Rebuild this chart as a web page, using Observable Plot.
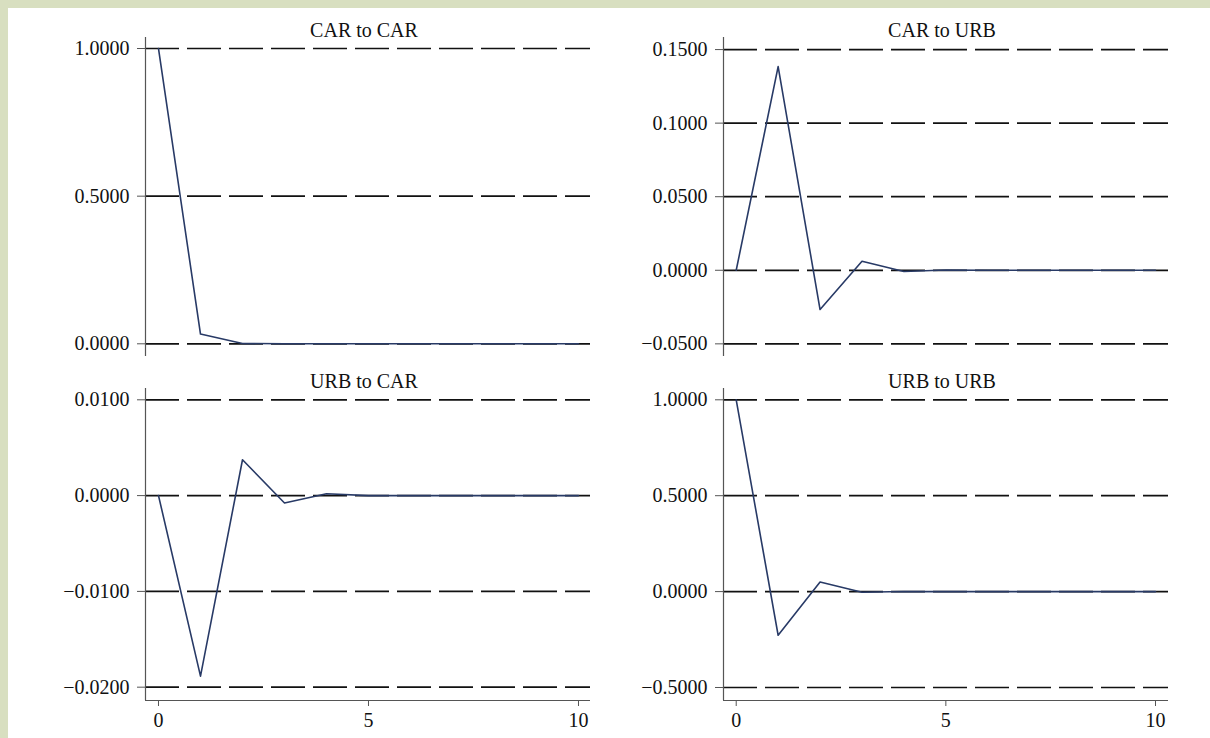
<!DOCTYPE html>
<html>
<head>
<meta charset="utf-8">
<script src="https://cdn.jsdelivr.net/npm/d3@7"></script>
<script src="https://cdn.jsdelivr.net/npm/@observablehq/plot@0.6"></script>
<style>
  html, body { margin: 0; padding: 0; background: #d8dfc0; }
  #page { position: relative; width: 1210px; height: 738px; overflow: hidden; }
  #sheet { position: absolute; left: 8px; top: 8px; right: 0; bottom: 0; background: #ffffff; }
  .panel { position: absolute; }
</style>
</head>
<body>
<div id="page"><div id="sheet"></div></div>
<script>
// ---- data ----
const periods = [0, 1, 2, 3, 4, 5, 6, 7, 8, 9, 10];
const carToCar = [1.0, 0.033, 0.001, 0.0002, 0, 0, 0, 0, 0, 0, 0];
const carToUrb = [0, 0.1384, -0.0267, 0.0061, -0.0008, 0.0002, 0, 0, 0, 0, 0];
const urbToCar = [0, -0.01885, 0.00374, -0.00077, 0.0002, 0, 0, 0, 0, 0, 0];
const urbToUrb = [1.0, -0.2276, 0.050, -0.0035, 0.0008, 0, 0, 0, 0, 0, 0];

const titles = ["CAR to CAR", "CAR to URB", "URB to CAR", "URB to URB"];
const ticksCarCar = [0, 0.5, 1.0];
const ticksCarUrb = [-0.05, 0, 0.05, 0.10, 0.15];
const ticksUrbCar = [-0.02, -0.01, 0, 0.01];
const ticksUrbUrb = [-0.5, 0, 0.5, 1.0];
const xTicks = [0, 5, 10];

const FONT = "'Liberation Serif', 'Times New Roman', serif";
const LINE = "#283a66";
const AXIS = "#555555";

function panel({title, values, yTicks, yDomain, xDomain, left, top, width, height, margins, showX}) {
  const data = periods.map((p, i) => ({step: p, value: values[i]}));
  const marks = [
    Plot.ruleY(yTicks, {stroke: "#111", strokeWidth: 1.7, strokeDasharray: "34,8"}),
    Plot.ruleX([xDomain[0]], {stroke: AXIS, strokeWidth: 1.2}),
    Plot.axisY({ticks: yTicks, tickFormat: d3.format(".4f"), tickSize: 8, tickPadding: 8, label: null,
                fontSize: 20, fontFamily: FONT, stroke: AXIS, color: "#111"}),
    Plot.line(data, {x: "step", y: "value", stroke: LINE, strokeWidth: 1.6}),
    Plot.text([title], {frameAnchor: "top", dx: -4, dy: -1, lineAnchor: "bottom",
                        fontSize: 20, fontFamily: FONT, fill: "#111"})
  ];
  if (showX) {
    marks.push(Plot.ruleY([yDomain[0]], {stroke: AXIS, strokeWidth: 1.2}));
    marks.push(Plot.axisX({ticks: xTicks, tickSize: 6, tickPadding: 6, label: null, fontSize: 20,
                           fontFamily: FONT, stroke: AXIS, color: "#111"}));
  }
  const chart = Plot.plot({
    width, height,
    marginLeft: margins[0], marginRight: margins[1], marginTop: margins[2], marginBottom: margins[3],
    style: {background: "transparent", overflow: "visible"},
    x: {domain: xDomain, axis: null, label: null},
    y: {domain: yDomain, axis: null, label: null},
    marks
  });
  chart.classList.add("panel");
  chart.style.left = left + "px";
  chart.style.top = top + "px";
  document.getElementById("page").appendChild(chart);
}

const xLeft = [-0.3095, 10.286];
const xRight = [-0.303, 10.31];

panel({title: titles[0], values: carToCar, yTicks: ticksCarCar, yDomain: [-0.043, 1.0373],
       xDomain: xLeft, left: 0, top: 0, width: 600, height: 360, margins: [145, 10, 37, 4], showX: false});
panel({title: titles[1], values: carToUrb, yTicks: ticksCarUrb, yDomain: [-0.0586, 0.1582],
       xDomain: xRight, left: 600, top: 0, width: 610, height: 360, margins: [123, 42, 37, 4], showX: false});
panel({title: titles[2], values: urbToCar, yTicks: ticksUrbCar, yDomain: [-0.02139, 0.01118],
       xDomain: xLeft, left: 0, top: 360, width: 600, height: 378, margins: [145, 10, 28, 38], showX: true});
panel({title: titles[3], values: urbToUrb, yTicks: ticksUrbUrb, yDomain: [-0.5678, 1.0589],
       xDomain: xRight, left: 600, top: 360, width: 610, height: 378, margins: [123, 42, 28, 38], showX: true});
</script>
</body>
</html>
